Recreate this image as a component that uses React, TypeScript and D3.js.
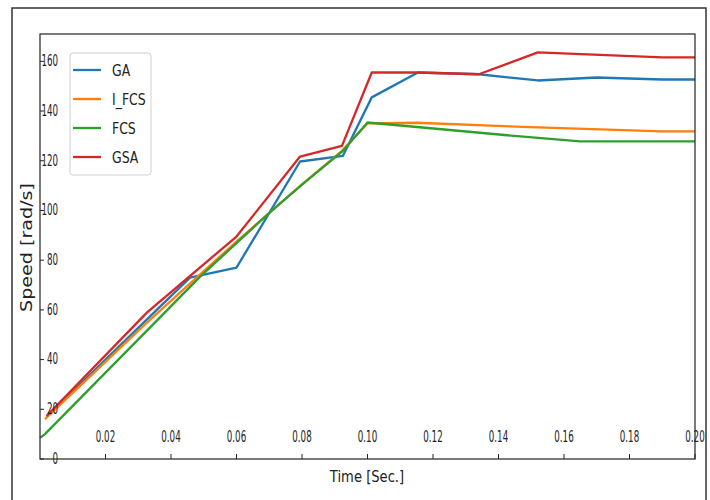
import React from "react";
import * as d3 from "d3";

// series (time in s, speed in rad/s)
const timeGA = [0.002, 0.0458, 0.06, 0.0794, 0.0925, 0.1013, 0.1154, 0.134, 0.152, 0.17, 0.19, 0.2];
const speedGA = [17, 73, 77, 119.7, 122, 145.5, 155.5, 154.8, 152.3, 153.5, 152.7, 152.7];

const timeIFCS = [0.0015, 0.0327, 0.06, 0.08, 0.0922, 0.1, 0.115, 0.152, 0.19, 0.2];
const speedIFCS = [16, 55, 87.5, 110.5, 124, 135, 135.3, 133.4, 131.8, 131.8];

const timeFCS = [0, 0.0015, 0.0489, 0.07, 0.08, 0.0925, 0.1, 0.1466, 0.165, 0.2];
const speedFCS = [8.5, 10, 73.4, 99, 110.4, 124, 135.4, 129.8, 127.8, 127.8];

const timeGSA = [0.002, 0.0327, 0.06, 0.0794, 0.0922, 0.1013, 0.1154, 0.134, 0.152, 0.19, 0.2];
const speedGSA = [17.3, 59, 89.5, 121.7, 126, 155.5, 155.5, 154.8, 163.6, 161.6, 161.6];

const seriesNames = ["GA", "I_FCS", "FCS", "GSA"];
const seriesColors = ["#1f77b4", "#ff7f0e", "#2ca02c", "#d62728"];

const xTicks = [0.02, 0.04, 0.06, 0.08, 0.1, 0.12, 0.14, 0.16, 0.18, 0.2];
const yTicks = [0, 20, 40, 60, 80, 100, 120, 140, 160];

const W = 710;
const H = 500;
const font = "DejaVu Sans";

export default function App() {
  const x = d3.scaleLinear().domain([0, 0.2]).range([40, 695]);
  const y = d3.scaleLinear().domain([0, 171]).range([459, 34]);

  const series = [
    { t: timeGA, v: speedGA },
    { t: timeIFCS, v: speedIFCS },
    { t: timeFCS, v: speedFCS },
    { t: timeGSA, v: speedGSA },
  ];

  const line = d3
    .line<[number, number]>()
    .x((d) => x(d[0]))
    .y((d) => y(d[1]));

  return (
    <svg
      width={W}
      height={H}
      style={{ position: "absolute", left: 0, top: 0, background: "#fff" }}
      fontFamily={font}
    >
      {/* outer frame of the figure */}
      <rect x={12} y={8} width={694} height={500} fill="none" stroke="#333" strokeWidth={1.5} />

      {/* plot lines */}
      {series.map((s, i) => (
        <path
          key={seriesNames[i]}
          d={line(s.t.map((t, j) => [t, s.v[j]] as [number, number])) || ""}
          fill="none"
          stroke={seriesColors[i]}
          strokeWidth={2.3}
          strokeLinejoin="round"
        />
      ))}

      {/* axes box */}
      <rect x={40} y={34} width={655} height={425} fill="none" stroke="#222" strokeWidth={1.2} />

      {/* y ticks, inward, labels inside */}
      {yTicks.map((v) => (
        <g key={"y" + v}>
          <line x1={40} x2={44} y1={y(v)} y2={y(v)} stroke="#222" />
          <g transform={`translate(58,${y(v)}) scale(0.58,1)`}>
            <text textAnchor="end" dominantBaseline="central" fontSize={15} fill="#222">
              {d3.format("d")(v)}
            </text>
          </g>
        </g>
      ))}

      {/* x ticks, inward, labels inside */}
      {xTicks.map((t) => (
        <g key={"x" + t}>
          <line x1={x(t)} x2={x(t)} y1={459} y2={454} stroke="#222" />
          <g transform={`translate(${x(t)},437) scale(0.58,1)`}>
            <text textAnchor="middle" dominantBaseline="central" fontSize={15} fill="#222">
              {d3.format(".2f")(t)}
            </text>
          </g>
        </g>
      ))}

      {/* axis titles */}
      <g transform="translate(367,482) scale(0.82,1)">
        <text textAnchor="middle" fontSize={16} fill="#222">
          Time [Sec.]
        </text>
      </g>
      <text
        transform="translate(32,247.5) rotate(-90)"
        textAnchor="middle"
        fontSize={16}
        textLength={129}
        lengthAdjust="spacingAndGlyphs"
        fill="#222"
      >
        Speed [rad/s]
      </text>

      {/* legend */}
      <rect x={70} y={53} width={81} height={122} rx={3} fill="#fff" fillOpacity={0.8} stroke="#d0d0d0" />
      {seriesNames.map((name, i) => {
        const ly = 70 + i * 29;
        return (
          <g key={"lg" + name}>
            <line x1={73} x2={101} y1={ly} y2={ly} stroke={seriesColors[i]} strokeWidth={2.3} />
            <g transform={`translate(112,${ly}) scale(0.78,1)`}>
              <text dominantBaseline="central" fontSize={16} fill="#222">
                {name}
              </text>
            </g>
          </g>
        );
      })}
    </svg>
  );
}
